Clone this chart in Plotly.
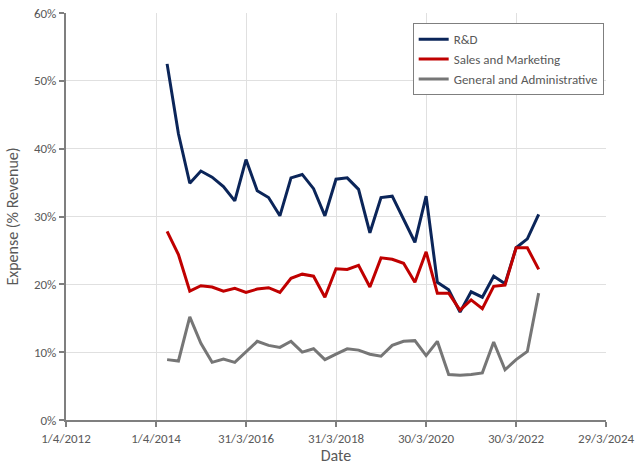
import plotly.graph_objects as go

quarters = [
    "2014-06-30", "2014-09-30", "2014-12-31", "2015-03-31",
    "2015-06-30", "2015-09-30", "2015-12-31", "2016-03-31",
    "2016-06-30", "2016-09-30", "2016-12-31", "2017-03-31",
    "2017-06-30", "2017-09-30", "2017-12-31", "2018-03-31",
    "2018-06-30", "2018-09-30", "2018-12-31", "2019-03-31",
    "2019-06-30", "2019-09-30", "2019-12-31", "2020-03-31",
    "2020-06-30", "2020-09-30", "2020-12-31", "2021-03-31",
    "2021-06-30", "2021-09-30", "2021-12-31", "2022-03-31",
    "2022-06-30", "2022-09-30",
]

rnd = [52.5, 42.2, 34.9, 36.7, 35.8, 34.4, 32.3, 38.4, 33.8, 32.8,
       30.1, 35.7, 36.2, 34.1, 30.1, 35.5, 35.7, 34.0, 27.6, 32.8,
       33.0, 29.7, 26.2, 33.0, 20.3, 19.2, 15.9, 18.9, 18.1, 21.2,
       20.1, 25.4, 26.7, 30.3]

sales_mkt = [27.8, 24.4, 19.0, 19.8, 19.6, 19.0, 19.4, 18.8, 19.3, 19.5,
             18.8, 20.9, 21.5, 21.2, 18.1, 22.3, 22.2, 22.8, 19.6, 23.9,
             23.7, 23.1, 20.3, 24.8, 18.7, 18.7, 16.2, 17.7, 16.4, 19.7,
             19.9, 25.4, 25.4, 22.2]

gen_admin = [8.9, 8.7, 15.2, 11.3, 8.5, 9.0, 8.5, 10.0, 11.6, 11.0,
             10.7, 11.6, 10.0, 10.5, 8.9, 9.7, 10.5, 10.3, 9.7, 9.4,
             11.0, 11.6, 11.7, 9.5, 11.6, 6.7, 6.6, 6.7, 6.95, 11.5,
             7.4, 8.9, 10.1, 18.7]

x_tick_vals = ["2012-04-01", "2014-04-01", "2016-03-31", "2018-03-31",
               "2020-03-30", "2022-03-30", "2024-03-29"]
x_tick_text = ["1/4/2012", "1/4/2014", "31/3/2016", "31/3/2018",
               "30/3/2020", "30/3/2022", "29/3/2024"]
y_tick_vals = [0, 10, 20, 30, 40, 50, 60]
y_tick_text = ["0%", "10%", "20%", "30%", "40%", "50%", "60%"]

series = [
    ("R&D", rnd, "#0b2559"),
    ("Sales and Marketing", sales_mkt, "#c00000"),
    ("General and Administrative", gen_admin, "#767676"),
]

FONT = "Calibri, Carlito, Lato, 'Open Sans', sans-serif"
TXT = "#595959"

fig = go.Figure()
for name, vals, color in series:
    fig.add_trace(go.Scatter(x=quarters, y=vals, mode="lines", name=name,
                             line=dict(color=color, width=3)))

fig.update_layout(
    width=640, height=465,
    margin=dict(l=66, r=34, t=13, b=45),
    paper_bgcolor="white", plot_bgcolor="white",
    font=dict(family=FONT, size=13, color=TXT),
    showlegend=True,
    legend=dict(x=0.642, y=0.975, xanchor="left", yanchor="top",
                bgcolor="white", bordercolor="#7f7f7f", borderwidth=1,
                font=dict(size=13, color=TXT), itemwidth=30,
                tracegroupgap=0),
)
fig.update_xaxes(
    type="date", range=["2012-04-01", "2024-03-29"],
    tickmode="array", tickvals=x_tick_vals, ticktext=x_tick_text,
    showgrid=True, gridcolor="#e0e0e0", gridwidth=1,
    showline=True, linecolor="#7f7f7f", linewidth=2,
    ticks="outside", ticklen=5, tickcolor="#7f7f7f", tickwidth=2,
    title=dict(text="Date", standoff=4),
    zeroline=False, automargin=False,
)
fig.update_yaxes(
    range=[0, 60], tickmode="array", tickvals=y_tick_vals,
    ticktext=y_tick_text,
    showgrid=True, gridcolor="#e0e0e0", gridwidth=1,
    showline=True, linecolor="#7f7f7f", linewidth=2,
    ticks="outside", ticklen=5, tickcolor="#7f7f7f", tickwidth=2,
    title=dict(text="Expense (% Revenue)", standoff=11),
    zeroline=False, automargin=False,
)

fig.write_html("out.html", config={"displayModeBar": False},
               post_script="document.body.style.margin='0';document.body.style.overflow='hidden';")
